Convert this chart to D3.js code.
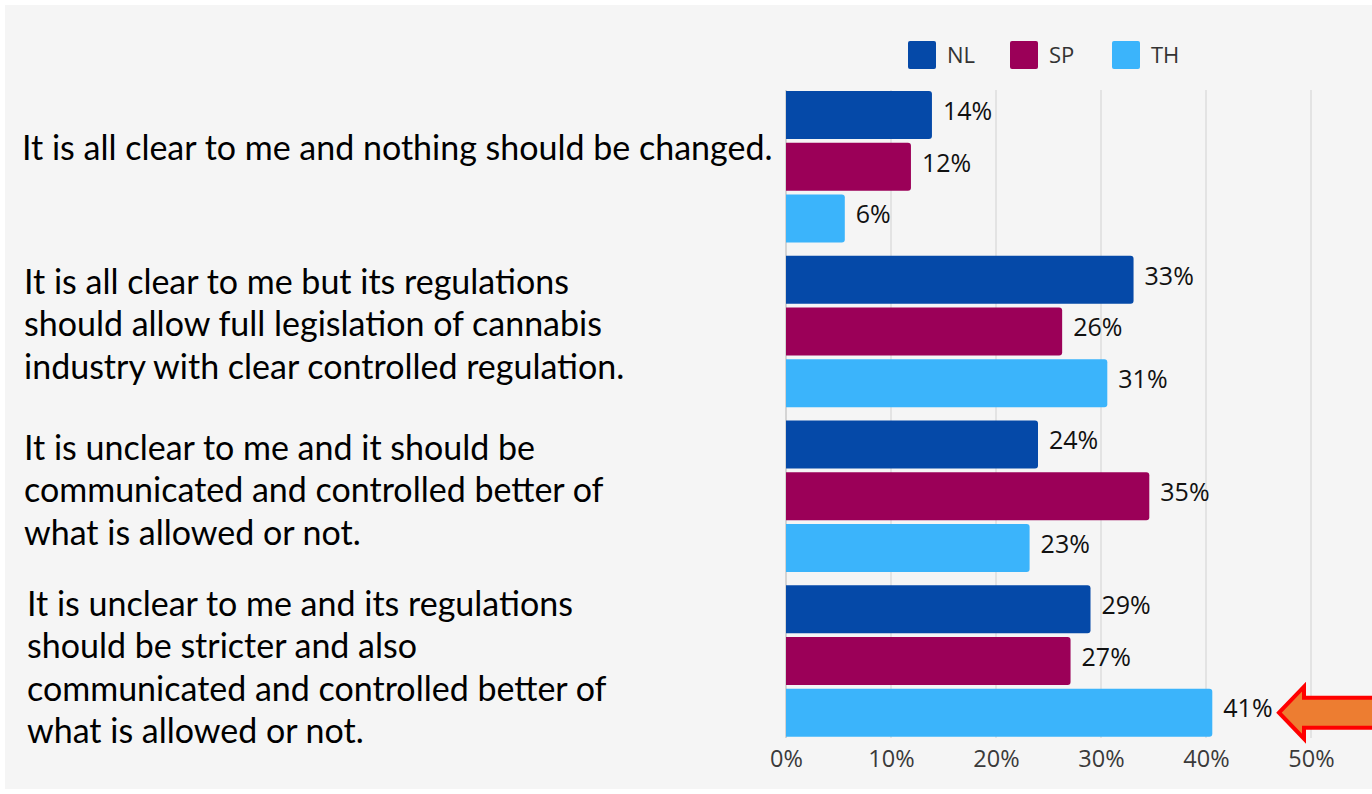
<!DOCTYPE html>
<html><head><meta charset="utf-8">
<script src="https://cdn.jsdelivr.net/npm/d3@7"></script>
<style>body{margin:0;background:#fff}svg{display:block}</style>
</head><body>
<svg id="c" width="1372" height="794"></svg>
<script>
const categories = [
  ["It is all clear to me and nothing should be changed."],
  ["It is all clear to me but its regulations","should allow full legislation of cannabis","industry with clear controlled regulation."],
  ["It is unclear to me and it should be","communicated and controlled better of","what is allowed or not."],
  ["It is unclear to me and its regulations","should be stricter and also","communicated and controlled better of","what is allowed or not."]
];
const series = ["NL","SP","TH"];
const NL = [13.9, 33.1, 24.0, 29.0];
const SP = [11.9, 26.3, 34.6, 27.1];
const TH = [5.6, 30.6, 23.2, 40.6];
const ticks = [0,10,20,30,40,50];
const colors = ["#0549a8","#9b0058","#3bb4fb"];

const svg = d3.select("#c");
svg.append("rect").attr("x",5).attr("y",5).attr("width",1367).attr("height",784).attr("fill","#f5f5f5");

const x = d3.scaleLinear().domain([0,50]).range([786,1311]);
const idx = d3.range(categories.length);
const y0 = d3.scaleBand().domain(idx).range([88,747]).paddingInner(0);
const y1 = d3.scaleBand().domain(series).range([3,154.5]).paddingInner(0.07);
const vals = {NL, SP, TH};

// gridlines
svg.append("g").selectAll("line").data(ticks).join("line")
  .attr("x1",d=>x(d)).attr("x2",d=>x(d)).attr("y1",90).attr("y2",738)
  .attr("stroke",d=>d===0?"#c8c8c8":"#dcdcdc").attr("stroke-width",1.5);

// axis
const ax = svg.append("g").attr("transform","translate(0,759)")
  .call(d3.axisBottom(x).tickValues(ticks).tickFormat(d=>d+"%").tickSize(0).tickPadding(0));
ax.select(".domain").remove();
ax.selectAll("text").attr("dy","0.35em").attr("y",0)
  .attr("font-family","'Open Sans', 'Noto Sans', sans-serif").attr("font-size",23.5).attr("fill","#3a3a3a");

// bars
const data = [];
idx.forEach(i=>series.forEach((s,j)=>data.push({i,s,j,v:vals[s][i]})));
svg.append("g").selectAll("path").data(data).join("path")
  .attr("fill",d=>colors[d.j])
  .attr("d",d=>{
    const x0=x(0), x1=x(d.v), yt=y0(d.i)+y1(d.s), h=y1.bandwidth(), r=3;
    return `M${x0},${yt}H${x1-r}Q${x1},${yt} ${x1},${yt+r}V${yt+h-r}Q${x1},${yt+h} ${x1-r},${yt+h}H${x0}Z`;
  });

// value labels
svg.append("g").selectAll("text").data(data).join("text")
  .attr("x",d=>x(d.v)+11).attr("y",d=>y0(d.i)+y1(d.s)+y1.bandwidth()/2 - 4)
  .attr("dy","0.35em").attr("font-family","'Open Sans', 'Noto Sans', sans-serif").attr("font-size",25).attr("fill","#111")
  .text(d=>Math.round(d.v)+"%");

// legend
const lg = svg.append("g").selectAll("g").data(series).join("g")
  .attr("transform",(d,i)=>`translate(${908+i*102},41)`);
lg.append("rect").attr("width",28).attr("height",28).attr("rx",2).attr("fill",(d,i)=>colors[i]);
lg.append("text").attr("x",39).attr("y",14).attr("dy","0.36em")
  .attr("font-family","'Open Sans', 'Noto Sans', sans-serif").attr("font-size",22).attr("fill","#333").text(d=>d);

// category labels
const lineH = 42.5;
const lx = [22,24,24,27];
const firstY = [148,282,448,604];
svg.append("g").selectAll("text").data(categories).join("text")
  .attr("font-family","Lato, 'Open Sans', sans-serif").attr("font-size",34).attr("fill","#000")
  .each(function(lines,i){
    d3.select(this).selectAll("tspan").data(lines).join("tspan")
      .attr("x",lx[i]).attr("y",(d,k)=>firstY[i]+k*lineH).attr("dy","0.35em").text(d=>d);
  });

// arrow
const ay = y0(3)+y1("TH")+y1.bandwidth()/2;
svg.append("path")
  .attr("d",`M1279,${ay} L1304,${ay-26} L1304,${ay-15} L1380,${ay-15} L1380,${ay+15} L1304,${ay+15} L1304,${ay+26} Z`)
  .attr("fill","#ed7d31").attr("stroke","#ff0000").attr("stroke-width",4).attr("stroke-linejoin","miter");
</script>
</body></html>
